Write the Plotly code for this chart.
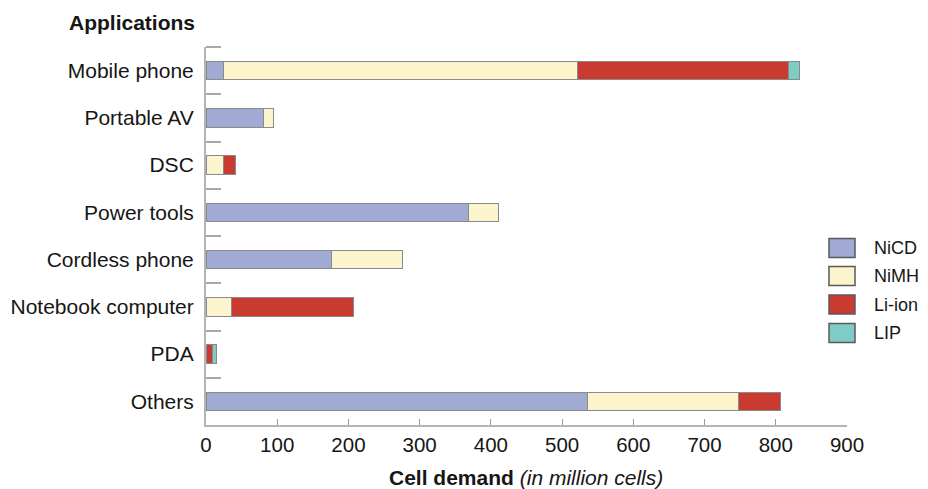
import plotly.graph_objects as go

# Battery cell demand by application and chemistry (million cells)
applications = ["Mobile phone", "Portable AV", "DSC", "Power tools",
                "Cordless phone", "Notebook computer", "PDA", "Others"]
nicd = [25, 81, 0, 369, 176, 0, 0, 535]
nimh = [496, 14, 25, 42, 100, 36, 0, 213]
li_ion = [297, 0, 16, 0, 0, 171, 9, 59]
lip = [15, 0, 0, 0, 0, 0, 6, 0]

series_names = ["NiCD", "NiMH", "Li-ion", "LIP"]
series_values = [nicd, nimh, li_ion, lip]
series_colors = ["#a0aad3", "#fbf4cd", "#c93a31", "#7fcbc6"]

x_ticks = [0, 100, 200, 300, 400, 500, 600, 700, 800, 900]

W, H = 928, 489
ML, MR, MT, MB = 206, 81, 47, 64
PW, PH = W - ML - MR, H - MT - MB


def px_x(p):
    return (p - ML) / PW


def px_y(p):
    return (H - MB - p) / PH


FONT = "Liberation Sans, Arial, Helvetica, sans-serif"
TXT = "#161616"

fig = go.Figure()
for name, vals, col in zip(series_names, series_values, series_colors):
    fig.add_trace(go.Bar(
        y=applications, x=vals, name=name, orientation="h",
        marker=dict(color=col, line=dict(color="#8a8a8a", width=1)),
        showlegend=False,
    ))

fig.update_layout(
    width=W, height=H,
    margin=dict(l=ML, r=MR, t=MT, b=MB, pad=0),
    barmode="stack", bargap=0.61,
    paper_bgcolor="white", plot_bgcolor="white",
    font=dict(family=FONT, size=20, color=TXT),
    xaxis=dict(
        range=[0, 900], tickvals=x_ticks, showgrid=False, zeroline=False,
        showline=True, linecolor="#b4b4b4", linewidth=2,
        ticks="inside", ticklen=6, tickcolor="#9a9a9a", tickwidth=1,
        tickfont=dict(size=20.5, color=TXT), ticklabelstandoff=0,
    ),
    yaxis=dict(
        categoryorder="array", categoryarray=applications,
        range=[7.5, -0.5], showgrid=False, zeroline=False,
        showline=True, linecolor="#b4b4b4", linewidth=2,
        ticks="inside", tickson="boundaries", ticklen=15,
        tickcolor="#a8a8a8", tickwidth=2,
        tickfont=dict(size=21, color=TXT), ticklabelstandoff=6,
    ),
)

# Tick closing the top of the category axis
fig.add_shape(
    type="line", xref="paper", yref="paper",
    x0=0, x1=px_x(ML + 15), y0=1, y1=1,
    line=dict(color="#a8a8a8", width=2),
)

# Headings
fig.add_annotation(
    x=px_x(67), y=px_y(22), xref="paper", yref="paper",
    xanchor="left", yanchor="middle", showarrow=False,
    text="<b>Applications</b>", font=dict(size=21, color=TXT),
)
fig.add_annotation(
    x=px_x(526), y=px_y(477), xref="paper", yref="paper",
    xanchor="center", yanchor="middle", showarrow=False,
    text="<b>Cell demand</b> <i>(in million cells)</i>",
    font=dict(size=21, color=TXT),
)

# Legend: swatches with labels
legend_rows = [248, 276, 304.5, 333]
for name, col, yc in zip(series_names, series_colors, legend_rows):
    fig.add_shape(
        type="rect", xref="paper", yref="paper",
        x0=px_x(829), x1=px_x(855), y0=px_y(yc + 9.5), y1=px_y(yc - 9.5),
        fillcolor=col, line=dict(color="#5a5a5a", width=1.5),
    )
    fig.add_annotation(
        x=px_x(872), y=px_y(yc), xref="paper", yref="paper",
        xanchor="left", yanchor="middle", showarrow=False,
        text=name, font=dict(size=18, color=TXT),
    )

fig.write_html("out.html")
